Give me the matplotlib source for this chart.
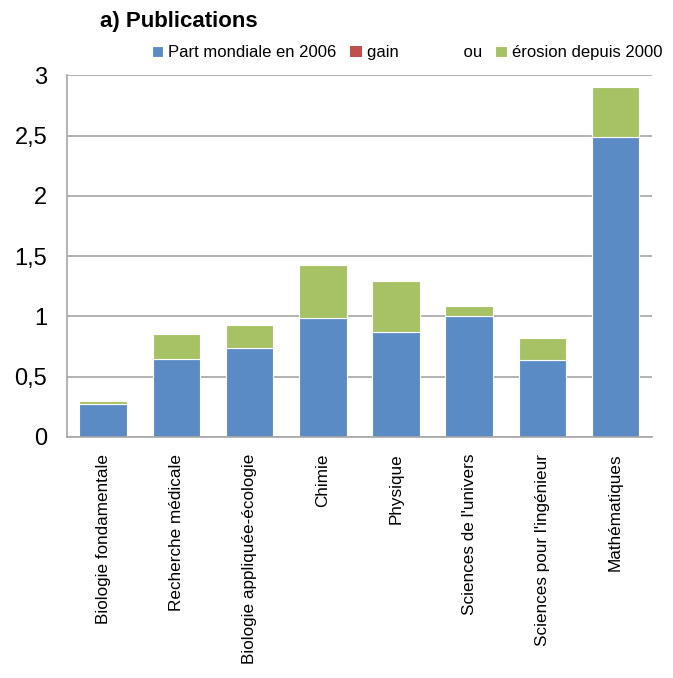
import numpy as np
import matplotlib.pyplot as plt
from matplotlib.ticker import FuncFormatter

plt.rcParams["font.family"] = ["Liberation Sans Narrow", "Liberation Sans", "DejaVu Sans"]

disciplines = [
    "Biologie fondamentale",
    "Recherche médicale",
    "Biologie appliquée-écologie",
    "Chimie",
    "Physique",
    "Sciences de l'univers",
    "Sciences pour l'ingénieur",
    "Mathématiques",
]
part_2006 = [0.27, 0.65, 0.74, 0.99, 0.87, 1.00, 0.64, 2.49]
gain = [0, 0, 0, 0, 0, 0, 0, 0]
erosion = [0.025, 0.205, 0.19, 0.44, 0.42, 0.085, 0.18, 0.41]

blue = "#5B8BC4"
red = "#C0504D"
green = "#A6C264"

fig = plt.figure(figsize=(6.73, 6.78), dpi=100)
ax = fig.add_axes([0.099, 0.3555, 0.87, 0.5335])

x = np.arange(len(disciplines))
w = 0.65
ax.bar(x, part_2006, w, color=blue, edgecolor="white", linewidth=0.8,
       label="Part mondiale en 2006")
ax.bar(x, gain, w, bottom=part_2006, color=red, edgecolor="white", linewidth=0,
       label="gain              ou")
ax.bar(x, erosion, w, bottom=np.add(part_2006, gain), color=green,
       edgecolor="white", linewidth=0.8, label="érosion depuis 2000")

ax.set_xlim(-0.5, len(disciplines) - 0.5)
ax.set_ylim(0, 3)
ax.set_yticks(np.arange(0, 3.01, 0.5))
ax.yaxis.set_major_formatter(FuncFormatter(lambda v, p: f"{v:g}".replace(".", ",")))
ax.yaxis.grid(True, color="#A6A6A6", linewidth=1.2)
ax.set_axisbelow(True)
ax.set_xticks(x)
ax.set_xticklabels(disciplines, rotation=90, fontsize=12.3)
ax.tick_params(axis="y", labelsize=17, length=0, pad=14)
ax.tick_params(axis="x", length=0, pad=12)
for s in ["top", "right"]:
    ax.spines[s].set_visible(False)
for s in ["left", "bottom"]:
    ax.spines[s].set_color("#A6A6A6")
    ax.spines[s].set_linewidth(1.2)

fig.text(0.149, 0.968, "a) Publications", fontsize=16, fontweight="bold",
         va="center", ha="left")
fig.legend(loc="center", bbox_to_anchor=(0.605, 0.922), ncol=3, frameon=False,
           fontsize=12, handlelength=0.7, handleheight=0.7, handletextpad=0.3,
           columnspacing=0.8)

fig.savefig("out.png", dpi=100)
